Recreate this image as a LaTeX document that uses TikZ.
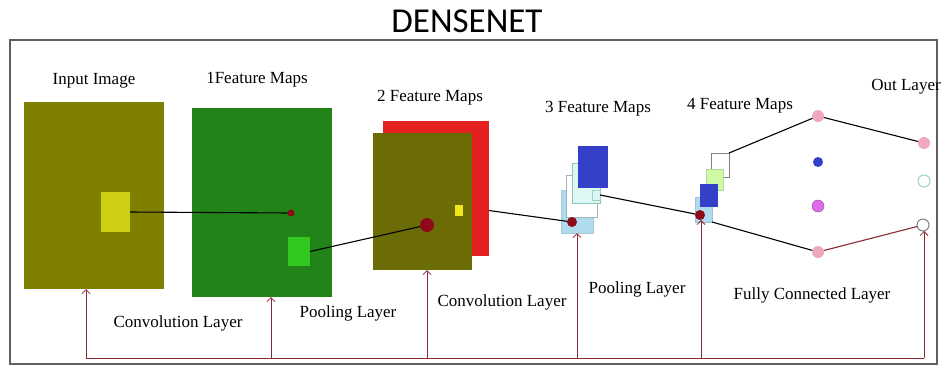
\documentclass[tikz,border=0pt]{standalone}
\usepackage{fontspec}
\setmainfont{Liberation Serif}
\newfontfamily\titlefont{Carlito}
\usetikzlibrary{arrows.meta}
\definecolor{oliveA}{RGB}{128,128,0}
\definecolor{oliveB}{RGB}{108,108,6}
\definecolor{greenA}{RGB}{34,132,24}
\definecolor{greenB}{RGB}{50,200,30}
\definecolor{yellowA}{RGB}{206,206,20}
\definecolor{yellowB}{RGB}{240,230,30}
\definecolor{redA}{RGB}{228,32,32}
\definecolor{dotred}{RGB}{140,10,25}
\definecolor{lblue}{RGB}{176,218,238}
\definecolor{lcyan}{RGB}{222,246,244}
\definecolor{blueA}{RGB}{52,64,200}
\definecolor{lgreen}{RGB}{205,250,165}
\definecolor{maroon}{RGB}{140,40,55}
\definecolor{pinkA}{RGB}{240,168,188}
\definecolor{violetA}{RGB}{222,110,232}
\definecolor{tealA}{RGB}{150,215,195}
\definecolor{framegray}{RGB}{95,95,95}
\tikzset{
  box/.style={rectangle, inner sep=0pt, outer sep=0pt},
  lbl/.style={font=\fontsize{17}{20}\selectfont, inner sep=0pt},
  dot/.style={circle, fill=dotred, inner sep=0pt, outer sep=0pt},
  neuron/.style={circle, inner sep=0pt, outer sep=0pt, minimum size=12pt},
  conn/.style={black, line width=1.1pt},
  fb/.style={maroon, line width=1pt},
  fbarrow/.style={fb, -{Straight Barb[length=4pt,width=8pt,line width=0.8pt]}}
}
\begin{document}
\begin{tikzpicture}[x=1pt,y=-1pt]
\useasboundingbox (0,0) rectangle (945,368);
\fill[white] (0,0) rectangle (945,368);
% title and frame
\node[font=\titlefont\fontsize{35}{40}\selectfont, anchor=base, inner sep=0pt] (title) at (467,32) {DENSENET};
\draw[framegray, line width=1.6pt] (10,40) rectangle (937,364);

% input image
\node[box, fill=oliveA, minimum width=140pt, minimum height=187pt] (in) at (94,195.5) {};
\node[box, fill=yellowA, minimum width=29pt, minimum height=40pt] (ink) at (115.5,212) {};
% 1 feature maps
\node[box, fill=greenA, minimum width=140pt, minimum height=189pt] (f1) at (262,202.5) {};
\node[dot, minimum size=7pt] (d1) at (291,213) {};
\node[box, fill=greenB, minimum width=22pt, minimum height=29pt] (p1) at (299,251.5) {};
% 2 feature maps
\node[box, fill=redA, minimum width=106pt, minimum height=135pt] (f2b) at (436,188.5) {};
\node[box, fill=oliveB, minimum width=99pt, minimum height=137pt] (f2) at (422.5,201.5) {};
\node[dot, minimum size=14pt] (d2) at (427,225) {};
\node[box, fill=yellowB, minimum width=8pt, minimum height=11pt] (k2) at (459,210.5) {};
% 3 feature maps
\node[box, fill=lblue, draw=lblue!80!gray, line width=0.6pt, minimum width=32pt, minimum height=43pt] (f3a) at (577,211.5) {};
\node[box, fill=white, draw=lblue!60!gray, line width=0.6pt, minimum width=31pt, minimum height=42pt] (f3b) at (581.5,196) {};
\node[box, fill=lcyan, draw=tealA!80!gray, line width=0.6pt, minimum width=28pt, minimum height=40pt] (f3c) at (586,183) {};
\node[box, fill=blueA, minimum width=30pt, minimum height=42pt] (f3d) at (593,167) {};
\node[box, fill=lcyan, draw=tealA, line width=0.6pt, minimum width=8pt, minimum height=10pt] (p3) at (596,195) {};
\node[dot, minimum size=10pt] (d3) at (572,222) {};
% 4 feature maps
\node[box, fill=white, draw=gray, line width=0.7pt, minimum width=18pt, minimum height=24pt] (f4a) at (720,165) {};
\node[box, fill=lgreen, draw=lgreen!70!gray, line width=0.5pt, minimum width=17pt, minimum height=21pt] (f4b) at (714.5,179.5) {};
\node[box, fill=lblue, draw=lblue!70!gray, line width=0.5pt, minimum width=17pt, minimum height=25pt] (f4d) at (703.5,209.5) {};
\node[box, fill=blueA, minimum width=18pt, minimum height=23pt] (f4c) at (709,195.5) {};
\node[dot, minimum size=10pt] (d4) at (700,215) {};
% fully connected
\node[neuron, fill=pinkA] (n1) at (818,116) {};
\node[neuron, fill=blueA, minimum size=10pt] (n2) at (818,162) {};
\node[neuron, fill=violetA, draw=violetA!70!black, line width=0.5pt] (n3) at (818,206) {};
\node[neuron, fill=pinkA] (n4) at (818,252) {};
% output layer
\node[neuron, fill=pinkA] (o1) at (924,143) {};
\node[neuron, fill=white, draw=tealA, line width=1pt] (o2) at (924,181) {};
\node[neuron, fill=white, draw=gray, line width=1pt] (o3) at (923,225) {};

% connectors
\draw[conn] (ink.east) -- (d1);
\draw[conn] (p1.east) -- (d2);
\draw[conn] (f2b.east |- k2) -- (d3);
\draw[conn] (p3.east) -- (d4);
\draw[conn] (f4a.north east) -- (n1);
\draw[conn] (f4d.south east) -- (n4);
\draw[conn] (n1) -- (o1);
\draw[fb, line width=1.1pt] (n4) -- (o3);

% feedback lines
\coordinate (b0) at (86,358);
\coordinate (b1) at (271,358);
\coordinate (b2) at (427,358);
\coordinate (b3) at (577,358);
\coordinate (b4) at (701,358);
\coordinate (b5) at (924,358);
\draw[fb] (b0) -- (b5);
\draw[fbarrow] (b0) -- (b0 |- in.south);
\draw[fbarrow] (b1) -- (b1 |- f1.south);
\draw[fbarrow] (b2) -- (b2 |- f2.south);
\draw[fbarrow] (b3) -- (b3 |- f3a.south);
\draw[fbarrow] (b4) -- (b4 |- d4.south);
\draw[fbarrow] (b5) -- (b5 |- o3.south);

% labels
\node[lbl] (l0) at (94,81) {Input Image};
\node[lbl] (l1) at (257,80) {1Feature Maps};
\node[lbl] (l2) at (430,98) {2 Feature Maps};
\node[lbl] (l3) at (598,109) {3 Feature Maps};
\node[lbl] (l4) at (740,106) {4 Feature Maps};
\node[lbl] (l5) at (906,87) {Out Layer};
\node[lbl] (c1) at (178,323) {Convolution Layer};
\node[lbl] (c2) at (348,313) {Pooling Layer};
\node[lbl] (c3) at (502,302) {Convolution Layer};
\node[lbl] (c4) at (637,289) {Pooling Layer};
\node[lbl] (c5) at (812,295) {Fully Connected Layer};
\end{tikzpicture}
\end{document}
